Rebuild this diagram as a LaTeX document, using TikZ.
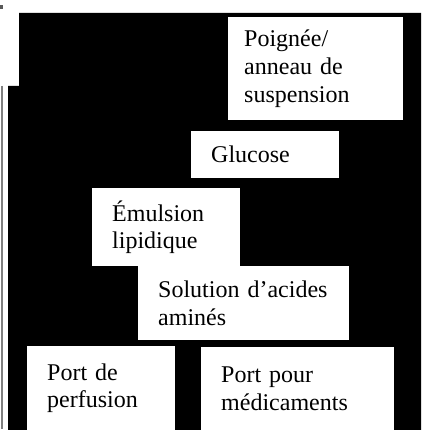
\documentclass[tikz,border=0pt]{standalone}
\usepackage{fontspec}
\setmainfont{Liberation Serif}
\begin{document}
\begin{tikzpicture}[x=1pt,y=-1pt]
		\tikzset{part box/.style={fill=white,anchor=north west,align=left,inner xsep=20pt,inner ysep=0pt,font=\fontsize{24}{27.6}\selectfont}}
		\useasboundingbox (0,0) rectangle (421,430);
		
		\fill[gray!70!black] (0,5) rectangle (3,9);
		\fill[black] (19,13) -- (421,13) -- (421,430) -- (8,430) -- (8,86) -- (19,86) -- cycle;
		\draw[gray,line width=2pt] (2,86) -- (2,429);
		
		\node [part box, inner xsep=16pt, text width=143pt, minimum width=175pt, minimum height=103pt] (handle) at (228,17) {Poignée/\\anneau de\\suspension};
		\node [part box, text width=108pt, minimum width=148pt, minimum height=47pt] (glucose) at (191,131) {Glucose};
		\node [part box, text width=108pt, minimum width=148pt, minimum height=78pt] (lipid) at (92,188) {Émulsion\\lipidique};
		\node [part box, text width=171pt, minimum width=211pt, minimum height=74pt] (amino) at (138,266) {Solution d’acides\\aminés};
		\node [part box, text width=108pt, minimum width=148pt, minimum height=84pt] (infusion) at (27,346) {Port de\\perfusion};
		\node [part box, text width=153pt, minimum width=193pt, minimum height=83pt] (medport) at (201,347) {Port pour\\médicaments};
		\end{tikzpicture}
\end{document}
